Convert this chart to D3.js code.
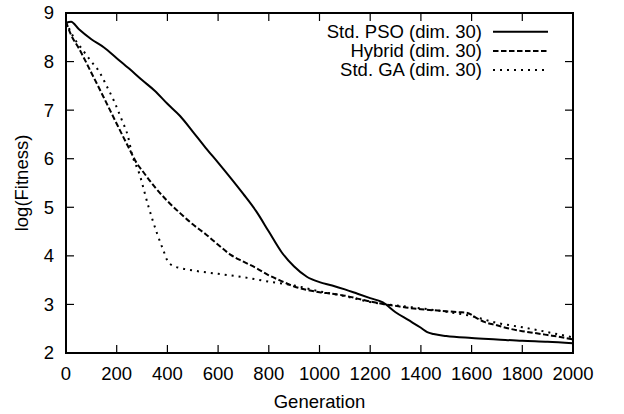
<!DOCTYPE html>
<html>
<head>
<meta charset="utf-8">
<script src="https://cdn.jsdelivr.net/npm/d3@7"></script>
<style>
  html, body { margin: 0; padding: 0; background: #fff; }
  svg { display: block; }
  text { font-family: "Liberation Sans", Arial, Helvetica, sans-serif; fill: #000; }
</style>
</head>
<body>
<svg id="chart" width="624" height="414"></svg>
<script>
// ---- Data ----
const xTicks = [0, 200, 400, 600, 800, 1000, 1200, 1400, 1600, 1800, 2000];
const yTicks = [2, 3, 4, 5, 6, 7, 8, 9];

const psoGen = [0, 20, 50, 100, 150, 200, 250, 300, 350, 400, 450, 500, 550, 600, 650, 700, 750, 800, 850, 900, 950, 1000, 1050, 1100, 1150, 1200, 1250, 1300, 1350, 1400, 1425, 1450, 1500, 1600, 1700, 1800, 1900, 2000];
const psoVal = [8.80, 8.82, 8.67, 8.46, 8.29, 8.07, 7.85, 7.62, 7.40, 7.13, 6.88, 6.56, 6.23, 5.92, 5.60, 5.27, 4.92, 4.50, 4.08, 3.78, 3.57, 3.46, 3.39, 3.31, 3.22, 3.13, 3.04, 2.84, 2.68, 2.52, 2.43, 2.39, 2.35, 2.31, 2.28, 2.25, 2.23, 2.20];

const hybGen = [0, 20, 50, 100, 150, 200, 250, 280, 300, 350, 400, 450, 500, 550, 600, 650, 700, 750, 800, 850, 900, 950, 1000, 1050, 1100, 1150, 1200, 1250, 1300, 1350, 1400, 1450, 1500, 1550, 1580, 1620, 1650, 1700, 1750, 1800, 1850, 1900, 1950, 2000];
const hybVal = [8.82, 8.55, 8.28, 7.77, 7.25, 6.72, 6.20, 5.90, 5.76, 5.42, 5.13, 4.88, 4.65, 4.45, 4.23, 4.02, 3.88, 3.75, 3.60, 3.48, 3.37, 3.30, 3.25, 3.22, 3.18, 3.12, 3.06, 3.01, 2.97, 2.93, 2.90, 2.88, 2.86, 2.84, 2.83, 2.72, 2.64, 2.57, 2.50, 2.45, 2.41, 2.37, 2.33, 2.28];

const gaGen = [0, 30, 60, 100, 130, 160, 190, 220, 245, 260, 290, 325, 360, 385, 400, 420, 450, 500, 600, 700, 800, 900, 1000, 1100, 1200, 1300, 1400, 1500, 1600, 1700, 1800, 1900, 2000];
const gaVal = [8.82, 8.50, 8.28, 8.00, 7.80, 7.50, 7.18, 6.80, 6.45, 6.10, 5.68, 5.02, 4.45, 4.10, 3.90, 3.80, 3.75, 3.70, 3.63, 3.56, 3.47, 3.39, 3.27, 3.17, 3.05, 2.98, 2.92, 2.85, 2.76, 2.62, 2.53, 2.43, 2.32];

const seriesNames = ["Std. PSO (dim. 30)", "Hybrid (dim. 30)", "Std. GA (dim. 30)"];
const xLabel = "Generation";
const yLabel = "log(Fitness)";

// ---- Build series ----
const series = [
  { name: seriesNames[0], gen: psoGen, val: psoVal, dash: null },
  { name: seriesNames[1], gen: hybGen, val: hybVal, dash: "5.5,2.5" },
  { name: seriesNames[2], gen: gaGen, val: gaVal, dash: "2,5" }
];

const svg = d3.select("#chart");
const pL = 66, pR = 573, pT = 13, pB = 353;

const x = d3.scaleLinear().domain([0, 2000]).range([pL, pR]);
const y = d3.scaleLinear().domain([2, 9]).range([pB, pT]);

const fs = "18.5px";
const tickLen = 8;

// Ticks (inward, mirrored on all sides)
const gTicks = svg.append("g").attr("stroke", "#000").attr("stroke-width", 1.2);
xTicks.forEach(t => {
  gTicks.append("line").attr("x1", x(t)).attr("x2", x(t)).attr("y1", pB).attr("y2", pB - tickLen);
  gTicks.append("line").attr("x1", x(t)).attr("x2", x(t)).attr("y1", pT).attr("y2", pT + tickLen);
});
yTicks.forEach(t => {
  gTicks.append("line").attr("x1", pL).attr("x2", pL + tickLen).attr("y1", y(t)).attr("y2", y(t));
  gTicks.append("line").attr("x1", pR).attr("x2", pR - tickLen).attr("y1", y(t)).attr("y2", y(t));
});

// Tick labels
svg.append("g").selectAll("text").data(xTicks).join("text")
  .attr("x", d => x(d)).attr("y", 380)
  .attr("text-anchor", "middle").style("font-size", fs)
  .text(d => d);
svg.append("g").selectAll("text").data(yTicks).join("text")
  .attr("x", 54).attr("y", d => y(d)).attr("dy", "0.35em")
  .attr("text-anchor", "end").style("font-size", fs)
  .text(d => d);

// Axis titles
svg.append("text").attr("x", (pL + pR) / 2).attr("y", 408)
  .attr("text-anchor", "middle").style("font-size", fs).text(xLabel);
svg.append("text")
  .attr("transform", `translate(28,${(pT + pB) / 2}) rotate(-90)`)
  .attr("text-anchor", "middle").style("font-size", fs).text(yLabel);

// Lines
const line = d3.line().x(d => x(d[0])).y(d => y(d[1])).curve(d3.curveMonotoneX);
series.forEach(s => {
  const pts = s.gen.map((g, i) => [g, s.val[i]]);
  svg.append("path").datum(pts)
    .attr("d", line)
    .attr("fill", "none").attr("stroke", "#000").attr("stroke-width", 2)
    .attr("stroke-dasharray", s.dash);
});

// Frame
svg.append("rect").attr("x", pL).attr("y", pT)
  .attr("width", pR - pL).attr("height", pB - pT)
  .attr("fill", "none").attr("stroke", "#000").attr("stroke-width", 2);

// Legend
series.forEach((s, i) => {
  const ly = 31.7 + i * 19.2;
  svg.append("text").attr("x", 482).attr("y", ly + 5.8)
    .attr("text-anchor", "end").style("font-size", fs).text(s.name);
  svg.append("line").attr("x1", 493).attr("x2", 548).attr("y1", ly).attr("y2", ly)
    .attr("stroke", "#000").attr("stroke-width", 2).attr("stroke-dasharray", s.dash);
});
</script>
</body>
</html>
